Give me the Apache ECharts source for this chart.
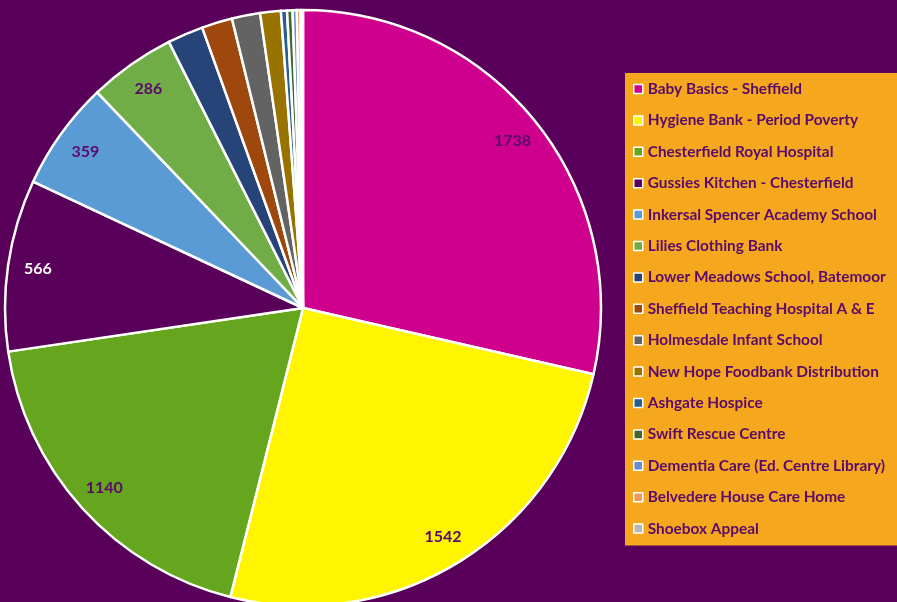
<!DOCTYPE html>
<html lang="en">
<head>
    <meta charset="UTF-8">
    <title>Donations</title>
    <script src="https://cdn.jsdelivr.net/npm/echarts@6/dist/echarts.min.js"></script>
    <style>
        html, body {margin: 0; padding: 0; background: #58005a;}
        #main {width: 897px; height: 602px;}
    </style>
</head>
<body>
    <div id="main"></div>
    <script>
    // data
    var names = [
        'Baby Basics - Sheffield',
        'Hygiene Bank - Period Poverty',
        'Chesterfield Royal Hospital',
        'Gussies Kitchen - Chesterfield',
        'Inkersal Spencer Academy School',
        'Lilies Clothing Bank',
        'Lower Meadows School, Batemoor',
        'Sheffield Teaching Hospital A & E',
        'Holmesdale Infant School',
        'New Hope Foodbank Distribution',
        'Ashgate Hospice',
        'Swift Rescue Centre',
        'Dementia Care (Ed. Centre Library)',
        'Belvedere House Care Home',
        'Shoebox Appeal'
    ];
    var values = [1738, 1542, 1140, 566, 359, 286, 118, 101, 93, 68, 20, 18, 14, 12, 8];
    var colors = ['#d0008e', '#fff500', '#66a61e', '#58005a', '#5b9bd5', '#70ad47', '#264478',
                  '#9e480e', '#636363', '#997300', '#255e91', '#43682b', '#698ed0', '#f1975a', '#b7b7b7'];
    var labelColors = ['#5a0a6a', '#5a0a6a', '#5a0a6a', '#ffffff', '#5a0a6a', '#5a0a6a'];

    var myChart = echarts.init(document.getElementById('main'));

    var pieData = names.map(function (n, i) {
        return {name: n, value: values[i], itemStyle: {color: colors[i]}};
    });
    // ring used only to put the numbers near the rim
    var labelData = names.map(function (n, i) {
        return {
            name: n, value: values[i],
            label: {show: i < 6, color: labelColors[i] || '#5a0a6a'}
        };
    });

    var option = {
        backgroundColor: '#58005a',
        animation: false,
        color: colors,
        legend: {
            orient: 'vertical',
            left: 625,
            top: 73,
            data: names,
            backgroundColor: '#f5a81e',
            borderColor: '#f5a81e',
            padding: [8, 13, 9, 8],
            itemWidth: 9,
            itemHeight: 9,
            itemGap: 15.4,
            icon: 'rect',
            itemStyle: {borderColor: '#ffffff', borderWidth: 1.5},
            textStyle: {
                color: '#5a0a6a',
                fontFamily: 'Lato',
                fontWeight: 'bold',
                fontSize: 15.4,
                lineHeight: 16
            },
            selectedMode: false
        },
        series: [
            {
                type: 'pie',
                center: [303, 308],
                radius: [0, 298],
                startAngle: 90,
                clockwise: true,
                data: pieData,
                label: {show: false},
                labelLine: {show: false},
                itemStyle: {borderColor: '#ffffff', borderWidth: 2.5},
                silent: true
            },
            {
                type: 'pie',
                center: [303, 308],
                radius: [232, 298],
                startAngle: 90,
                clockwise: true,
                data: labelData,
                itemStyle: {color: 'rgba(0,0,0,0)', borderWidth: 0},
                label: {
                    position: 'inside',
                    formatter: '{c}',
                    fontFamily: 'Lato',
                    fontWeight: 'bold',
                    fontSize: 16
                },
                labelLine: {show: false},
                silent: true
            }
        ]
    };
    myChart.setOption(option);
    </script>
</body>
</html>
